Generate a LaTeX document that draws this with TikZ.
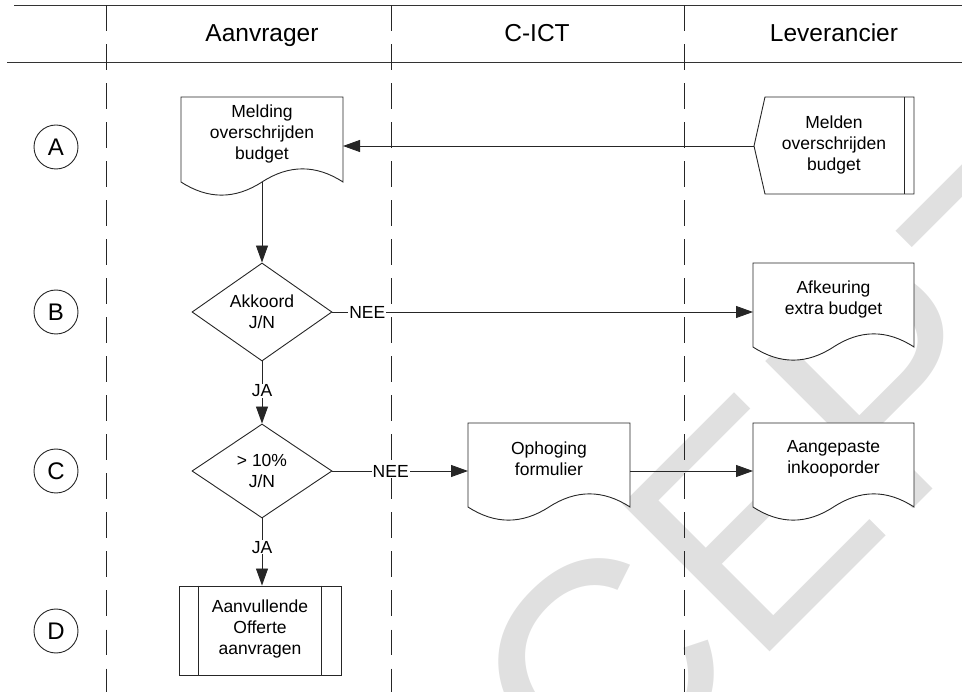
\documentclass[tikz,border=0pt]{standalone}
\usepackage{fontspec}
\setmainfont{Liberation Sans}
\usetikzlibrary{arrows.meta,calc,shapes.geometric}

\newcommand{\docoutline}[1]{%
  \draw[box] (#1.north west) -- (#1.north east) -- (#1.south east)
    .. controls ($(#1.south west)!0.8333!(#1.south east)+(0,-17.5)$) and ($(#1.south west)!0.6667!(#1.south east)+(0,-17.5)$) .. (#1.south)
    .. controls ($(#1.south west)!0.3333!(#1.south east)+(0,17.5)$) and ($(#1.south west)!0.1667!(#1.south east)+(0,17.5)$) .. (#1.south west)
    -- cycle;}

\begin{document}
\begin{tikzpicture}[x=1pt,y=-1pt,
  lane/.style={draw=black!85, line width=1pt, dash pattern=on 25.7pt off 13.3pt},
  hdr/.style={draw=black!80, line width=1.3pt},
  txt/.style={font=\fontsize{17.5}{21}\selectfont, align=center, inner sep=0pt},
  ttl/.style={font=\fontsize{24.5}{28}\selectfont, inner sep=0pt, anchor=base},
  rowlabel/.style={circle, draw=black!85, line width=0.9pt, minimum size=44pt, inner sep=0pt, font=\fontsize{24}{28}\selectfont},
  arr/.style={draw=black!85, line width=0.9pt, -{Triangle[length=17pt,width=12pt]}},
  lbl/.style={fill=white, font=\fontsize{17.5}{21}\selectfont, inner sep=1pt},
  box/.style={draw=black!85, fill=white, line width=0.9pt},
  shapearea/.style={inner sep=0pt, outer sep=0pt},
  decision/.style={diamond, draw=black!85, fill=white, line width=0.9pt, inner sep=0pt, minimum width=140pt, minimum height=94pt, font=\fontsize{17.5}{21}\selectfont, align=center},
]
\useasboundingbox (0,0) rectangle (962,692);

% watermark
\begin{scope}
\clip (0,0) rectangle (962,692);
\node[anchor=base west, rotate=45, inner sep=0pt, text=black!12, font=\fontsize{303}{303}\selectfont] (wm) at (122,1300) {CONCEPT};
\end{scope}

% header and lanes
\draw[hdr] (14,5.5) -- (962,5.5);
\draw[hdr] (7,62.5) -- (962,62.5);
\draw[lane] (106,5.5) -- (106,692);
\draw[lane] (391,5.5) -- (391,692);
\draw[lane] (684,5.5) -- (684,692);
\node[ttl] (h1) at (262,42) {Aanvrager};
\node[ttl] (h2) at (537,42) {C-ICT};
\node[ttl] (h3) at (834,42) {Leverancier};

% row labels
\node[rowlabel] (ra) at (56,147) {A};
\node[rowlabel] (rb) at (56,312) {B};
\node[rowlabel] (rc) at (56,471) {C};
\node[rowlabel] (rd) at (56,631) {D};

% Melding (document)
\node[shapearea, minimum width=162pt, minimum height=85pt] (melding) at (262,139.5) {};
\docoutline{melding}
\node[txt] (meldingt) at (262,134) {Melding\\overschrijden\\budget};

% Melden (display shape)
\node[shapearea, minimum width=149pt, minimum height=97pt] (melden) at (839.5,145.5) {};
\coordinate (meldentip) at ($(melden.west)+(-11,0.5)$);
\draw[box] (melden.north west) -- (melden.north east) -- (melden.south east) -- (melden.south west) -- (meldentip) -- cycle;
\draw[box] ($(melden.north east)+(-10,0)$) -- ($(melden.south east)+(-10,0)$);
\node[txt] (meldent) at (834,145) {Melden\\overschrijden\\budget};

% decisions
\node[decision] (d1) at (262,312) {Akkoord\\J/N};
\node[decision] (d2) at (262,471) {> 10\%\\J/N};

% Afkeuring
\node[shapearea, minimum width=161pt, minimum height=84pt] (afkeuring) at (833.5,305) {};
\docoutline{afkeuring}
\node[txt] (afkeuringt) at (833.5,299.5) {Afkeuring\\extra budget};

% Ophoging
\node[shapearea, minimum width=162pt, minimum height=84pt] (ophoging) at (549,465) {};
\docoutline{ophoging}
\node[txt] (ophogingt) at (549,459) {Ophoging\\formulier};

% Aangepaste
\node[shapearea, minimum width=161pt, minimum height=84pt] (aangepaste) at (833.5,465) {};
\docoutline{aangepaste}
\node[txt] (aangepastet) at (833.5,459) {Aangepaste\\inkooporder};

% Offerte (predefined process)
\node[box, minimum width=162pt, minimum height=89pt, inner sep=0pt] (offerte) at (260,630.5) {};
\draw[box] ($(offerte.north west)+(20,0)$) -- ($(offerte.south west)+(20,0)$);
\draw[box] ($(offerte.north east)+(-20,0)$) -- ($(offerte.south east)+(-20,0)$);
\node[txt] (offertet) at (260,629) {Aanvullende\\Offerte\\aanvragen};

% connectors
\draw[arr] (meldentip) -- (meldentip -| melding.east);
\draw[arr] (melding.south) -- (d1.north);
\draw[arr] (d1.east) -- (d1.east -| afkeuring.west) node[lbl, pos=0.083] {NEE};
\draw[arr] (d1.south) -- (d2.north) node[lbl, pos=0.47] {JA};
\draw[arr] (d2.east) -- (d2.east -| ophoging.west) node[lbl, pos=0.43] {NEE};
\draw[arr] (d2.east -| ophoging.east) -- (d2.east -| aangepaste.west);
\draw[arr] (d2.south) -- (d2.south |- offerte.north) node[lbl, pos=0.43] {JA};
\end{tikzpicture}
\end{document}
